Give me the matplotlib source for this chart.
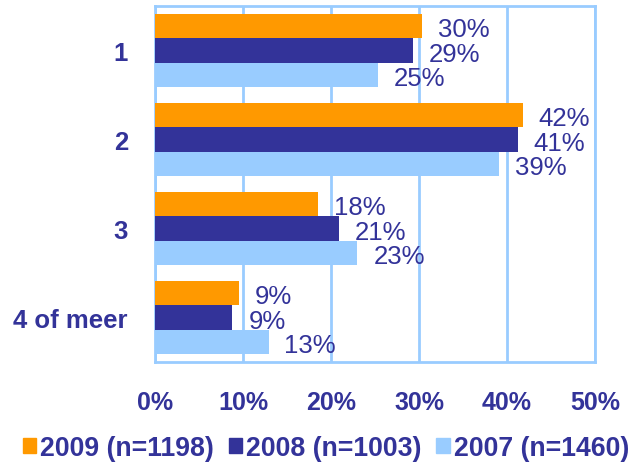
import matplotlib
matplotlib.use("Agg")
import matplotlib.pyplot as plt
import numpy as np
from matplotlib.patches import Patch

plt.rcParams['font.family'] = ['Liberation Sans', 'DejaVu Sans']

categories = ["1", "2", "3", "4 of meer"]
series_names = ["2009 (n=1198)", "2008 (n=1003)", "2007 (n=1460)"]
values_2009 = [30.3, 41.8, 18.5, 9.5]
values_2008 = [29.3, 41.2, 20.9, 8.8]
values_2007 = [25.3, 39.1, 23.0, 12.9]
labels_2009 = ["30%", "42%", "18%", "9%"]
labels_2008 = ["29%", "41%", "21%", "9%"]
labels_2007 = ["25%", "39%", "23%", "13%"]
xticks = [0, 10, 20, 30, 40, 50]
xtick_labels = ["0%", "10%", "20%", "30%", "40%", "50%"]

colors = ["#FF9900", "#333399", "#99CCFF"]
text_color = "#333399"
grid_color = "#99CCFF"

fig = plt.figure(figsize=(6.4, 4.64), dpi=100)
ax = fig.add_axes([155/640, 1 - 363/464, 440/640, 356/464])

all_vals = [values_2009, values_2008, values_2007]
all_labels = [labels_2009, labels_2008, labels_2007]
h = 0.275
y = np.arange(len(categories))
for i, (vals, labs) in enumerate(zip(all_vals, all_labels)):
    pos = y + (i - 1) * h
    ax.barh(pos, vals, height=h, color=colors[i], zorder=3)
    for p, v, l in zip(pos, vals, labs):
        ax.annotate(l, (v, p), xytext=(11.5, -2.5), textcoords="offset points",
                    ha="left", va="center", fontsize=18.5, color=text_color)

ax.set_ylim(len(categories) - 0.5, -0.5)
ax.set_xlim(0, 50)
ax.set_yticks(y)
ax.set_yticklabels(categories, fontsize=18.5, fontweight="bold", color=text_color)
ax.set_xticks(xticks)
ax.set_xticklabels(xtick_labels, fontsize=18, fontweight="bold", color=text_color)
ax.tick_params(axis="both", length=0)
ax.tick_params(axis="y", pad=19.5)
ax.tick_params(axis="x", pad=20)
ax.grid(axis="x", color=grid_color, linewidth=2, zorder=0)
for s in ax.spines.values():
    s.set_color(grid_color)
    s.set_linewidth(2)

handles = [Patch(color=c) for c in colors]
fig.legend(handles, series_names, loc="center", bbox_to_anchor=(326/640, 1 - 449/464),
           ncol=3, frameon=False, handlelength=0.5, handleheight=0.5,
           handletextpad=0.15, columnspacing=0.55, borderpad=0,
           prop={"size": 19.2, "weight": "bold"}, labelcolor=text_color)

fig.savefig("out.png", dpi=100)
